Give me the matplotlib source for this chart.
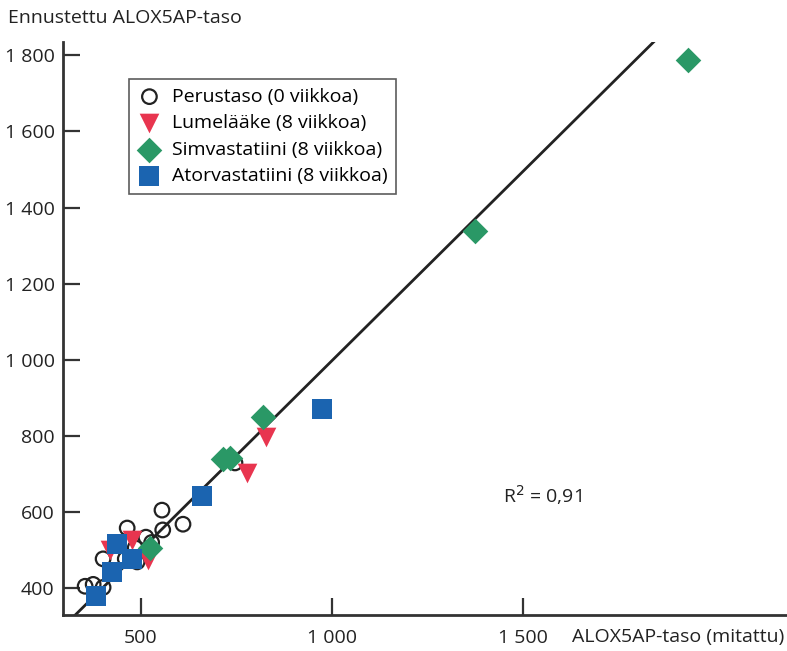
import matplotlib.pyplot as plt
import numpy as np

# arvot luettu kuvasta (mitattu, ennustettu)
perus_x = [354, 375, 401, 401, 459, 464, 485, 490, 513, 528, 555, 557, 610, 746]
perus_y = [405, 410, 402, 477, 477, 558, 506, 469, 534, 520, 605, 553, 568, 729]

lume_x = [419, 477, 519, 778, 826]
lume_y = [500, 526, 474, 703, 797]

simva_x = [524, 715, 733, 820, 1374, 1930]
simva_y = [506, 740, 742, 850, 1337, 1787]

atorva_x = [382, 424, 437, 477, 660, 974]
atorva_y = [379, 443, 516, 477, 642, 871]

line_x = [325, 1850]
slope, intercept = 0.995, 3

yticks = [400, 600, 800, 1000, 1200, 1400, 1600, 1800]
xticks = [500, 1000, 1500]

def fmt(v):
    return f"{v:,}".replace(",", " ")

plt.rcParams['font.family'] = ['Open Sans', 'DejaVu Sans']

fig = plt.figure(figsize=(7.87, 6.51), dpi=100)
ax = fig.add_axes([0.080, 0.055, 0.92, 0.880])

lx = np.array(line_x)
ax.plot(lx, slope * lx + intercept, color='#222222', lw=2, zorder=1)

ax.scatter(perus_x, perus_y, s=110, facecolors='none', edgecolors='#222222',
           linewidths=1.6, zorder=2, label='Perustaso (0 viikkoa)')
ax.scatter(lume_x, lume_y, s=200, marker='v', color='#e8354f', linewidths=0,
           zorder=3, label='Lumelääke (8 viikkoa)')
ax.scatter(simva_x, simva_y, s=170, marker='D', color='#2a9866', linewidths=0,
           zorder=4, label='Simvastatiini (8 viikkoa)')
ax.scatter(atorva_x, atorva_y, s=190, marker='s', color='#1b64b0', linewidths=0,
           zorder=5, label='Atorvastatiini (8 viikkoa)')

ax.set_xlim(296, 2190)
ax.set_ylim(329, 1834)

for s in ['top', 'right']:
    ax.spines[s].set_visible(False)
for s in ['left', 'bottom']:
    ax.spines[s].set_linewidth(2)
    ax.spines[s].set_color('#333333')

ax.set_yticks(yticks)
ax.set_yticklabels([fmt(v) for v in yticks])
ax.set_xticks(xticks)
ax.set_xticklabels([fmt(v) for v in xticks])
ax.tick_params(direction='in', length=12, width=1.6, color='#333333',
               labelsize=14, labelcolor='#222222')
ax.tick_params(axis='y', pad=6)
ax.tick_params(axis='x', pad=10)

fig.text(8 / 787, 1 - 18 / 651, 'Ennustettu ALOX5AP-taso', fontsize=14,
         color='#222222', va='center', ha='left')
fig.text(784 / 787, 1 - 637 / 651, 'ALOX5AP-taso (mitattu)', fontsize=14,
         color='#222222', va='center', ha='right')

ax.text(1448, 645, 'R$^2$ = 0,91', fontsize=14, color='#222222', va='center')

leg = ax.legend(loc='upper left', bbox_to_anchor=(129 / 787, 1 - 79 / 651),
                bbox_transform=fig.transFigure, fontsize=14, frameon=True,
                fancybox=False, edgecolor='#333333', handletextpad=0.55,
                borderpad=0.45, labelspacing=0.44, handlelength=1.2,
                borderaxespad=0)
leg.get_frame().set_linewidth(1.2)

fig.savefig('out.png', dpi=100)
